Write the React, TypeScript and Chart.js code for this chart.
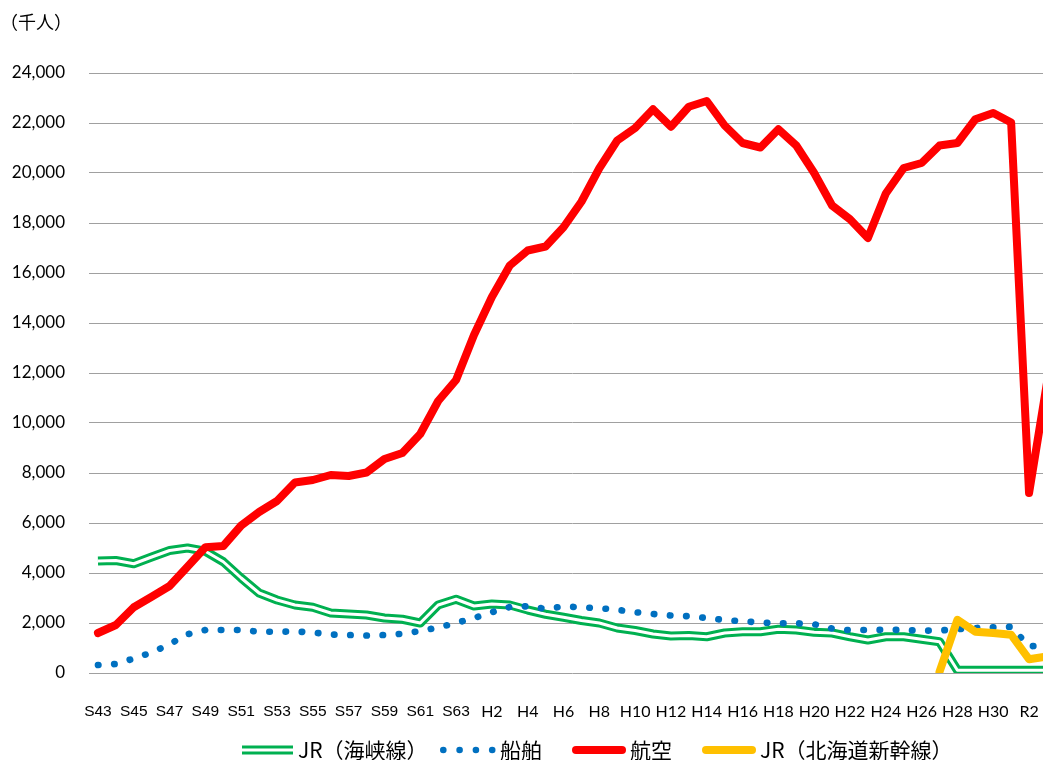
import React, { useEffect, useRef } from 'react';
import { Chart, registerables } from 'chart.js';

Chart.register(...registerables);

const years = [
  'S43', 'S44', 'S45', 'S46', 'S47', 'S48', 'S49', 'S50', 'S51', 'S52',
  'S53', 'S54', 'S55', 'S56', 'S57', 'S58', 'S59', 'S60', 'S61', 'S62',
  'S63', 'H1', 'H2', 'H3', 'H4', 'H5', 'H6', 'H7', 'H8', 'H9',
  'H10', 'H11', 'H12', 'H13', 'H14', 'H15', 'H16', 'H17', 'H18', 'H19',
  'H20', 'H21', 'H22', 'H23', 'H24', 'H25', 'H26', 'H27', 'H28', 'H29',
  'H30', 'R1', 'R2', 'R3',
];

// 千人
const jrKaikyo = [
  4480, 4500, 4370, 4640, 4900, 5000, 4870, 4450, 3800, 3200,
  2920, 2720, 2630, 2400, 2360, 2320, 2200, 2150, 2000, 2720,
  2950, 2680, 2760, 2720, 2520, 2350, 2230, 2100, 2000, 1800,
  1700, 1560, 1480, 1500, 1450, 1600, 1650, 1650, 1750, 1720,
  1630, 1600, 1450, 1320, 1450, 1450, 1350, 1250, 110, 110,
  110, 110, 110, 110,
];

const ship = [
  320, 360, 580, 820, 1150, 1550, 1720, 1720, 1720, 1650,
  1650, 1660, 1620, 1540, 1520, 1500, 1520, 1570, 1680, 1820,
  2000, 2200, 2430, 2640, 2670, 2570, 2660, 2630, 2590, 2530,
  2430, 2360, 2300, 2270, 2200, 2120, 2070, 2020, 1990, 1990,
  1950, 1780, 1710, 1720, 1730, 1720, 1690, 1700, 1750, 1800,
  1830, 1850, 1070, 1100,
];

const air = [
  1600, 1920, 2630, 3050, 3480, 4250, 5030, 5080, 5900, 6440,
  6880, 7620, 7720, 7920, 7880, 8020, 8560, 8800, 9560, 10880,
  11720, 13520, 15040, 16300, 16900, 17060, 17830, 18850, 20190, 21300,
  21800, 22550, 21850, 22650, 22880, 21900, 21200, 21020, 21750, 21100,
  20000, 18700, 18150, 17400, 19180, 20200, 20400, 21100, 21200, 22150,
  22400, 22020, 7200, 11600,
];

const shinkansen = [
  null, null, null, null, null, null, null, null, null, null,
  null, null, null, null, null, null, null, null, null, null,
  null, null, null, null, null, null, null, null, null, null,
  null, null, null, null, null, null, null, null, null, null,
  null, null, null, null, null, null, null, 50, 2130, 1650,
  1600, 1530, 550, 660,
];

const yTicks = [0, 2000, 4000, 6000, 8000, 10000, 12000, 14000, 16000, 18000, 20000, 22000, 24000];

const seriesNames = ['JR（海峡線）', '船舶', '航空', 'JR（北海道新幹線）'];
const unitLabel = '（千人）';

const GREEN = '#00B050';
const BLUE = '#0070C0';
const RED = '#FF0000';
const YELLOW = '#FFC000';

const CANVAS_W = 1068;
const CANVAS_H = 760;

const legendStarts = [242, 440, 572, 702];

const overlayPlugin = {
  id: 'overlayText',
  afterDraw(chart: any) {
    const ctx = chart.ctx as CanvasRenderingContext2D;
    ctx.save();
    // unit title
    ctx.font = '18px "Noto Sans CJK JP"';
    ctx.fillStyle = '#000';
    ctx.textBaseline = 'middle';
    ctx.textAlign = 'left';
    ctx.fillText(unitLabel, 0, 22);

    // legend
    const y = 750;
    ctx.font = '21px "Noto Sans CJK JP"';
    const kinds = ['double', 'dots', 'line', 'line'];
    const colors = [GREEN, BLUE, RED, YELLOW];
    seriesNames.forEach((name, i) => {
      const x0 = legendStarts[i];
      const kind = kinds[i];
      let textX = x0 + 56;
      if (kind === 'double') {
        ctx.lineCap = 'butt';
        ctx.strokeStyle = colors[i];
        ctx.lineWidth = 9;
        ctx.beginPath();
        ctx.moveTo(x0, y);
        ctx.lineTo(x0 + 51, y);
        ctx.stroke();
        ctx.strokeStyle = '#fff';
        ctx.lineWidth = 3;
        ctx.beginPath();
        ctx.moveTo(x0 - 1, y);
        ctx.lineTo(x0 + 52, y);
        ctx.stroke();
        textX = x0 + 56;
      } else if (kind === 'dots') {
        ctx.fillStyle = colors[i];
        for (let k = 0; k < 4; k++) {
          ctx.beginPath();
          ctx.arc(x0 + 3.3 + k * 16.3, y, 3.3, 0, Math.PI * 2);
          ctx.fill();
        }
        textX = x0 + 60;
      } else {
        ctx.lineCap = 'round';
        ctx.strokeStyle = colors[i];
        ctx.lineWidth = 8;
        ctx.beginPath();
        ctx.moveTo(x0 + 4, y);
        ctx.lineTo(x0 + 50, y);
        ctx.stroke();
        textX = x0 + 58;
      }
      ctx.fillStyle = '#000';
      ctx.fillText(name, textX, y);
    });
    ctx.restore();
  },
};

export default function App() {
  const ref = useRef<HTMLCanvasElement | null>(null);

  useEffect(() => {
    if (!ref.current) return;
    const chart = new Chart(ref.current, {
      type: 'line',
      data: {
        labels: years,
        datasets: [
          {
            label: seriesNames[0],
            data: jrKaikyo,
            borderColor: GREEN,
            borderWidth: 9,
            borderJoinStyle: 'round',
            pointRadius: 0,
            order: 5,
          },
          {
            label: '',
            data: jrKaikyo,
            borderColor: '#FFFFFF',
            borderWidth: 3,
            borderJoinStyle: 'round',
            pointRadius: 0,
            order: 4,
          },
          {
            label: seriesNames[1],
            data: ship,
            borderColor: BLUE,
            borderWidth: 6.6,
            borderDash: [0.5, 15.7],
            borderCapStyle: 'round',
            pointRadius: 0,
            order: 3,
          },
          {
            label: seriesNames[2],
            data: air,
            borderColor: RED,
            borderWidth: 8,
            borderJoinStyle: 'round',
            borderCapStyle: 'round',
            pointRadius: 0,
            order: 2,
          },
          {
            label: seriesNames[3],
            data: shinkansen,
            borderColor: YELLOW,
            borderWidth: 8,
            borderJoinStyle: 'round',
            borderCapStyle: 'round',
            pointRadius: 0,
            spanGaps: false,
            order: 1,
          },
        ] as any,
      },
      options: {
        responsive: false,
        animation: false,
        devicePixelRatio: 1,
        layout: { padding: { left: 0, right: 5, top: 73, bottom: 0 } },
        plugins: {
          legend: { display: false },
          tooltip: { enabled: false },
          title: { display: false },
        },
        scales: {
          x: {
            type: 'category',
            offset: true,
            grid: { display: false },
            border: { display: false },
            ticks: {
              autoSkip: false,
              maxRotation: 0,
              minRotation: 0,
              padding: 21,
              color: '#000',
              font: (c: any) =>
                c.index <= 20
                  ? { family: '"Liberation Sans"', size: 15.5 }
                  : { family: 'Lato', size: 16 },
              callback: (_v: any, i: number) => (i % 2 === 0 ? years[i] : ''),
            },
            afterFit: (s: any) => {
              s.height = 87;
            },
          },
          y: {
            min: 0,
            max: 24000,
            afterBuildTicks: (s: any) => {
              s.ticks = yTicks.map((v) => ({ value: v }));
            },
            grid: { color: '#A0A0A0', lineWidth: 1, drawTicks: false },
            border: { display: false },
            ticks: {
              padding: 24,
              color: '#000',
              font: { family: 'Lato', size: 17 },
              callback: (v: any) => Number(v).toLocaleString('en-US'),
            },
            afterFit: (s: any) => {
              s.width = 89;
            },
          },
        },
      } as any,
      plugins: [overlayPlugin],
    });
    return () => chart.destroy();
  }, []);

  return (
    <div
      style={{
        position: 'fixed',
        left: 0,
        top: 0,
        width: 1043,
        height: 760,
        overflow: 'hidden',
        background: '#fff',
      }}
    >
      <canvas ref={ref} width={CANVAS_W} height={CANVAS_H} style={{ display: 'block', width: CANVAS_W, height: CANVAS_H }} />
    </div>
  );
}
